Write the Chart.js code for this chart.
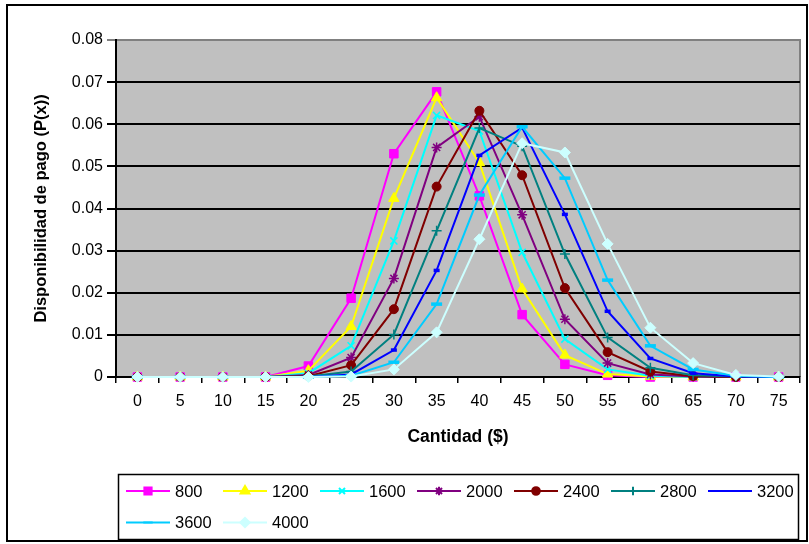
<!DOCTYPE html>
<html>
<head>
<meta charset="utf-8">
<script src="https://cdn.jsdelivr.net/npm/chart.js@4/dist/chart.umd.min.js"></script>
<style>
  html, body { margin: 0; padding: 0; background: #fff; }
  #wrap { width: 809px; height: 544px; position: relative; }
</style>
</head>
<body>
<div id="wrap"><canvas id="grafico"></canvas></div>
<script>
// Datos
const cantidades = ['0', '5', '10', '15', '20', '25', '30', '35', '40', '45', '50', '55', '60', '65', '70', '75'];
const yTicks = [0, 0.01, 0.02, 0.03, 0.04, 0.05, 0.06, 0.07, 0.08];

const serie800  = [0, 0, 0, 0, 0.0026, 0.0187, 0.0530, 0.0677, 0.0430, 0.0148, 0.0030, 0.0004, 0, 0, 0, 0];
const serie1200 = [0, 0, 0, 0, 0.0015, 0.0120, 0.0424, 0.0663, 0.0509, 0.0209, 0.0052, 0.0007, 0.0001, 0, 0, 0];
const serie1600 = [0, 0, 0, 0, 0.0009, 0.0074, 0.0323, 0.0621, 0.0584, 0.0296, 0.0090, 0.0018, 0.0003, 0, 0, 0];
const serie2000 = [0, 0, 0, 0, 0.0005, 0.0046, 0.0234, 0.0545, 0.0618, 0.0385, 0.0137, 0.0033, 0.0006, 0.0001, 0, 0];
const serie2400 = [0, 0, 0, 0, 0.0002, 0.0028, 0.0161, 0.0452, 0.0632, 0.0479, 0.0211, 0.0059, 0.0013, 0.0002, 0, 0];
const serie2800 = [0, 0, 0, 0, 0.0001, 0.0013, 0.0101, 0.0347, 0.0591, 0.0548, 0.0292, 0.0094, 0.0022, 0.0004, 0.0001, 0];
const serie3200 = [0, 0, 0, 0, 0, 0.0006, 0.0064, 0.0253, 0.0526, 0.0592, 0.0386, 0.0156, 0.0044, 0.0009, 0.0001, 0];
const serie3600 = [0, 0, 0, 0, 0, 0.0003, 0.0035, 0.0173, 0.0432, 0.0594, 0.0472, 0.0230, 0.0074, 0.0018, 0.0003, 0];
const serie4000 = [0, 0, 0, 0, 0, 0.0001, 0.0018, 0.0106, 0.0327, 0.0555, 0.0533, 0.0316, 0.0117, 0.0033, 0.0005, 0.0001];

const nombres = ['800', '1200', '1600', '2000', '2400', '2800', '3200', '3600', '4000'];
const valores = [serie800, serie1200, serie1600, serie2000, serie2400, serie2800, serie3200, serie3600, serie4000];

// estilos de cada serie (estilo Excel)
const colores = ['#FF00FF', '#FFFF00', '#00FFFF', '#800080', '#800000', '#008080', '#0000FF', '#00CCFF', '#CCFFFF'];
const marcadores = ['rect', 'triangle', 'crossRot', 'star', 'circle', 'cross', 'line', 'line', 'rectRot'];
const radios = [6, 6, 5, 5, 4.5, 5, 3, 5.5, 5.5];
const bordes = [1, 1, 1.5, 1.5, 1, 1.5, 3.5, 3.5, 1];

const FUENTE = '"Liberation Sans", Arial, sans-serif';

const datasets = nombres.map((n, i) => ({
    label: n,
    data: valores[i],
    borderColor: colores[i],
    backgroundColor: colores[i],
    borderWidth: 2,
    pointStyle: marcadores[i],
    pointRadius: radios[i],
    pointBorderWidth: bordes[i],
    pointBackgroundColor: colores[i],
    pointBorderColor: colores[i],
    tension: 0,
    clip: false,
    order: nombres.length - 1 - i   // la última serie queda encima
}));

// fondo gris del área de trazado, marco exterior y leyenda con recuadro
const marcoPlugin = {
    id: 'marco',
    beforeDraw(chart) {
        const { ctx, chartArea: a } = chart;
        ctx.save();
        ctx.fillStyle = '#C0C0C0';
        ctx.fillRect(a.left, a.top, a.right - a.left, a.bottom - a.top);
        ctx.strokeStyle = '#808080';
        ctx.lineWidth = 2;
        ctx.beginPath();
        ctx.moveTo(a.left, a.top);
        ctx.lineTo(a.right, a.top);
        ctx.lineTo(a.right, a.bottom);
        ctx.stroke();
        ctx.restore();
    },
    afterDraw(chart) {
        const ctx = chart.ctx;
        ctx.save();
        // marco exterior
        ctx.strokeStyle = '#000';
        ctx.lineWidth = 2;
        ctx.strokeRect(7, 5, 800, 536);
        // leyenda
        ctx.lineWidth = 1.5;
        ctx.strokeRect(118.5, 474.5, 680, 65);
        ctx.font = '16.5px ' + FUENTE;
        ctx.textBaseline = 'middle';
        ctx.textAlign = 'left';
        nombres.forEach((n, i) => {
            const col = i % 7;
            const fila = Math.floor(i / 7);
            const x0 = 126 + col * 97;
            const y = fila === 0 ? 491 : 522.5;
            ctx.strokeStyle = colores[i];
            ctx.fillStyle = colores[i];
            ctx.lineWidth = 2;
            ctx.beginPath();
            ctx.moveTo(x0, y);
            ctx.lineTo(x0 + 44, y);
            ctx.stroke();
            Chart.helpers.drawPoint(ctx, {
                pointStyle: marcadores[i],
                radius: radios[i] * 0.85,
                borderWidth: bordes[i],
                rotation: 0
            }, x0 + 22, y);
            ctx.fillStyle = '#000';
            ctx.fillText(n, x0 + 49, y + 1);
        });
        ctx.restore();
    }
};

const ctx = document.getElementById('grafico').getContext('2d');
window.grafico = new Chart(ctx, {
    type: 'line',
    data: { labels: cantidades, datasets: datasets },
    options: {
        responsive: true,
        maintainAspectRatio: false,
        animation: false,
        layout: { padding: { left: 0, right: 6, top: 40, bottom: 0 } },
        plugins: {
            legend: { display: false },
            tooltip: { enabled: false }
        },
        scales: {
            x: {
                offset: true,
                afterFit(s) { s.height = 167; },
                grid: {
                    offset: true,
                    drawOnChartArea: false,
                    drawTicks: true,
                    tickLength: 6,
                    color: '#000',
                    lineWidth: 1.5
                },
                border: { color: '#000', width: 2 },
                ticks: {
                    color: '#000',
                    font: { family: FUENTE, size: 16 },
                    padding: 9,
                    maxRotation: 0,
                    autoSkip: false
                },
                title: {
                    display: true,
                    text: 'Cantidad ($)',
                    color: '#000',
                    font: { family: FUENTE, size: 17.5, weight: 'bold' },
                    padding: { top: 0, bottom: 96 }
                }
            },
            y: {
                min: yTicks[0],
                max: yTicks[yTicks.length - 1],
                afterFit(s) { s.width = 116; },
                afterBuildTicks(s) { s.ticks = yTicks.map(v => ({ value: v })); },
                grid: {
                    color: c => (c.tick && c.tick.value === yTicks[yTicks.length - 1]) ? '#808080' : '#000',
                    lineWidth: 2,
                    tickLength: 9
                },
                border: { color: '#000', width: 2 },
                ticks: {
                    color: '#000',
                    font: { family: FUENTE, size: 16 },
                    padding: 4,
                    callback: v => v === 0 ? '0' : v.toFixed(2)
                },
                title: {
                    display: true,
                    text: 'Disponibilidad de pago (P(x))',
                    color: '#000',
                    font: { family: FUENTE, size: 16.5, weight: 'bold' },
                    padding: { top: 32, bottom: 0 }
                }
            }
        }
    },
    plugins: [marcoPlugin]
});
</script>
</body>
</html>
